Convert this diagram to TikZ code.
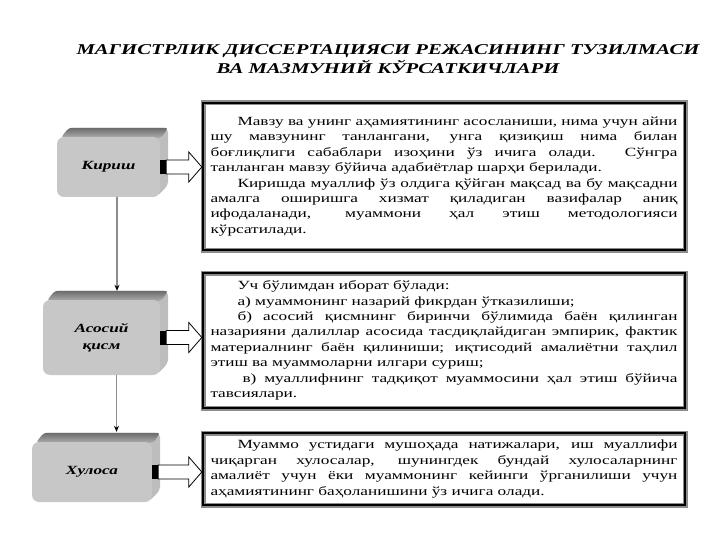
\documentclass[tikz,border=0pt]{standalone}
\usepackage{fontspec}
\setmainfont[FakeStretch=1.38]{Liberation Serif}
\usepackage{tikz}
\usetikzlibrary{arrows.meta,positioning,calc,backgrounds}
\tikzstyle{textframe} = [draw=black,line width=2.4pt,
	preaction={draw=black!45,line width=5pt},
	text width=467pt,inner xsep=7.5pt,align=justify,
	font=\fontsize{12.5}{15.4}\selectfont]
\tikzstyle{slab} = [fill=black!22,rounded corners=7pt,align=center,
	font=\fontsize{12.5}{17}\selectfont\bfseries\itshape]
\tikzstyle{slabside} = [fill=black!26,rounded corners=5pt]
\tikzstyle{slabtop} = [top color=black!58,bottom color=black!32,rounded corners=3pt]
\tikzstyle{conn} = [draw=black!45,line width=1.2pt,-{Stealth[color=black,length=6pt,width=5pt]}]
% block arrow from a slab to its text frame
\newcommand{\blockarrow}[2]{%
	\fill let \p1=(#1.east) in (\x1,\y1-7pt) rectangle (\x1+6pt,\y1+7pt);
	\draw[line width=0.8pt,fill=white] let \p1=(#1.east), \p2=(#2.west) in
	(\x1+6pt,\y1+7pt) -- (\x2-13pt,\y1+7pt) -- (\x2-13pt,\y1+15pt) -- (\x2,\y1)
	-- (\x2-13pt,\y1-15pt) -- (\x2-13pt,\y1-7pt) -- (\x1+6pt,\y1-7pt) -- cycle;
}
\begin{document}
\begin{tikzpicture}[x=1pt,y=-1pt]
	\useasboundingbox (0,0) rectangle (720,540);

	% Title
	\node[font=\fontsize{15}{18.5}\selectfont\bfseries\itshape,align=center] (title) at (388,59)
	{МАГИСТРЛИК ДИССЕРТАЦИЯСИ РЕЖАСИНИНГ ТУЗИЛМАСИ\\ВА МАЗМУНИЙ КЎРСАТКИЧЛАРИ};

	% Text frames
	\node[textframe,minimum height=147pt] (box1) at (444,176.5)
	{\hspace*{27pt}Мавзу ва унинг аҳамиятининг асосланиши, нима учун айни\linebreak
	шу мавзунинг танлангани, унга қизиқиш нима билан\linebreak
	боғлиқлиги сабаблари изоҳини ўз ичига олади. Сўнгра\linebreak
	танланган мавзу бўйича адабиётлар шарҳи берилади.\\
	\hspace*{27pt}Киришда муаллиф ўз олдига қўйган мақсад ва бу мақсадни\linebreak
	амалга оширишга хизмат қиладиган вазифалар аниқ\linebreak
	ифодаланади, муаммони ҳал этиш методологияси\linebreak
	кўрсатилади.};

	\node[textframe,minimum height=135pt] (box2) at (444,340.5)
	{\hspace*{27pt}Уч бўлимдан иборат бўлади:\\
	\hspace*{27pt}а) муаммонинг назарий фикрдан ўтказилиши;\\
	\hspace*{27pt}б) асосий қисмнинг биринчи бўлимида баён қилинган\linebreak
	назарияни далиллар асосида тасдиқлайдиган эмпирик, фактик\linebreak
	материалнинг баён қилиниши; иқтисодий амалиётни таҳлил\linebreak
	этиш ва муаммоларни илгари суриш;\\
	\hspace*{32pt}в) муаллифнинг тадқиқот муаммосини ҳал этиш бўйича\linebreak
	тавсиялари.};

	\node[textframe,minimum height=72pt] (box3) at (444,469)
	{\hspace*{27pt}Муаммо устидаги мушоҳада натижалари, иш муаллифи\linebreak
	чиқарган хулосалар, шунингдек бундай хулосаларнинг\linebreak
	амалиёт учун ёки муаммонинг кейинги ўрганилиши учун\linebreak
	аҳамиятининг баҳоланишини ўз ичига олади.};

	% Slabs
	\node[slab,minimum width=103pt,minimum height=60pt] (kirish) at (108.5,167) {Кириш};
	\node[slab,minimum width=117pt,minimum height=75pt] (asosiy) at (101.5,337.5) {Асосий\\қисм};
	\node[slab,minimum width=120pt,minimum height=60pt] (xulosa) at (92,472) {Хулоса};

	\begin{scope}[on background layer]
		\foreach \n in {kirish,asosiy,xulosa}{
			\fill[slabside] ([xshift=12pt,yshift=9pt]\n.north west) -- ([xshift=8pt,yshift=9pt]\n.north east)
			-- ([xshift=8pt,yshift=12pt]\n.south east) -- ([xshift=-4pt]\n.south east) -- cycle;
			\shade[slabtop] ([xshift=4pt,yshift=-1pt]\n.north west) -- ([xshift=12pt,yshift=9pt]\n.north west)
			-- ([xshift=8pt,yshift=9pt]\n.north east) -- ([xshift=1pt,yshift=-1pt]\n.north east) -- cycle;
		}
	\end{scope}

	% Arrows
	\coordinate (k1) at ([xshift=8.5pt]kirish.south);
	\coordinate (atop) at ([yshift=9pt]asosiy.north);
	\draw[conn] (k1) -- (k1 |- atop);
	\coordinate (a1) at ([xshift=15pt]asosiy.south);
	\coordinate (xtop) at ([yshift=10pt]xulosa.north);
	\draw[conn] (a1) -- (a1 |- xtop);

	\blockarrow{kirish}{box1}
	\blockarrow{asosiy}{box2}
	\blockarrow{xulosa}{box3}
\end{tikzpicture}
\end{document}
